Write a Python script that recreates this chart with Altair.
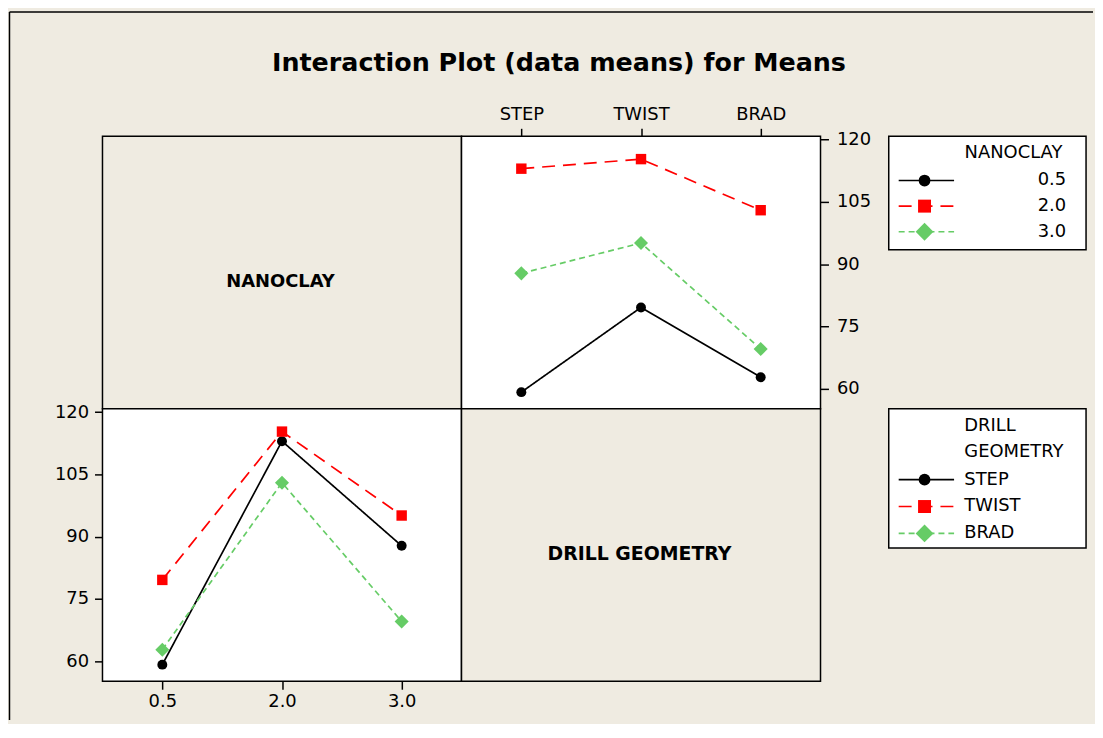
import altair as alt
import pandas as pd

# ---- data ----
nanoclay = ["0.5", "2.0", "3.0"]
geometry = ["STEP", "TWIST", "BRAD"]
# mean response for each nanoclay level at STEP, TWIST, BRAD
mean_05 = [59.2, 79.6, 62.8]
mean_20 = [113.0, 115.3, 103.0]
mean_30 = [87.8, 95.1, 69.6]
y_ticks = [60, 75, 90, 105, 120]
title_text = "Interaction Plot (data means) for Means"

BG = "#EFEBE1"
FONT = "DejaVu Sans"
series_colors = ["#000000", "#FF0000", "#66CC66"]
series_dash = [[1, 0], [13, 8], [6, 4]]
series_shape = ["circle", "square", "diamond"]
plot_sizes = [100, 110, 200]
legend_sizes = [140, 170, 320]

rows = []
for n, vals in zip(nanoclay, [mean_05, mean_20, mean_30]):
    for g, v in zip(geometry, vals):
        rows.append({"nano": n, "geom": g, "mean": v})
df = pd.DataFrame(rows)

PW, PH = 361, 274
LW = 267
yscale = alt.Scale(domain=[55.2, 120.8], nice=False, zero=False)


def styled(field, domain):
    return dict(
        color=alt.Color(f"{field}:N", scale=alt.Scale(domain=domain, range=series_colors), legend=None),
        strokeDash=alt.StrokeDash(f"{field}:N", scale=alt.Scale(domain=domain, range=series_dash), legend=None),
    )


def point_layers(data, field, domain, sizes, x, y):
    out = []
    for i, level in enumerate(domain):
        out.append(
            alt.Chart(data).transform_filter(alt.FieldEqualPredicate(field=field, equal=level))
            .mark_point(filled=True, opacity=1, shape=series_shape[i], size=sizes[i],
                        color=series_colors[i], strokeWidth=0)
            .encode(x=x, y=y)
        )
    return out


def interaction_panel(xfield, xdomain, sfield, sdomain, xorient, yorient):
    x = alt.X(f"{xfield}:N", sort=xdomain, scale=alt.Scale(domain=xdomain, type="point", padding=0.5),
              axis=alt.Axis(orient=xorient, title=None, labelAngle=0,
                            labelPadding=5 if xorient == "top" else 3))
    y = alt.Y("mean:Q", scale=yscale,
              axis=alt.Axis(orient=yorient, title=None, values=y_ticks,
                            labelPadding=8 if yorient == "right" else 6))
    lines = alt.Chart(df).mark_line(strokeWidth=1.7).encode(
        x=x, y=y, detail=f"{sfield}:N", **styled(sfield, sdomain))
    pts = point_layers(df, sfield, sdomain, plot_sizes, x, y)
    return alt.layer(lines, *pts).properties(
        width=PW, height=PH, view=alt.ViewBackground(fill="white", stroke="black", strokeWidth=1.5)
    )


one = pd.DataFrame({"k": [0]})


def label_text(text, cx, cy, size):
    return alt.Chart(one).mark_text(
        text=text, font=FONT, fontWeight="bold", fontSize=size, color="black", align="center", baseline="middle"
    ).encode(x=alt.value(cx), y=alt.value(cy))


# top-left cell: label, plus the figure title and the outer frame of the graph window
frame_left = alt.Chart(one).mark_rule(color="black", strokeWidth=1.5).encode(
    x=alt.value(-93.5), y=alt.value(-125), y2=alt.value(587))
frame_top = alt.Chart(one).mark_rule(color="black", strokeWidth=1.5).encode(
    x=alt.value(-93.5), x2=alt.value(996), y=alt.value(-125))
title_mark = alt.Chart(one).mark_text(
    text=title_text, font=FONT, fontWeight="bold", fontSize=25.5, color="black", align="center", baseline="middle"
).encode(x=alt.value(459), y=alt.value(-74))

nano_label = alt.layer(frame_left, frame_top, title_mark, label_text("NANOCLAY", 179, 147, 18)).properties(
    width=PW, height=PH, view=alt.ViewBackground(fill=BG, stroke="black", strokeWidth=1.5))
drill_label = label_text("DRILL GEOMETRY", 179, 146, 19).properties(
    width=PW, height=PH, view=alt.ViewBackground(fill=BG, stroke="black", strokeWidth=1.5))


def legend_panel(field, domain, title_lines, title_x, title_ys, title_align, box_h, entry_y, label_x, label_align):
    box = alt.Chart(one).mark_rect(fill="white", stroke="black", strokeWidth=1.5).encode(
        x=alt.value(68.6), x2=alt.value(LW), y=alt.value(0), y2=alt.value(box_h)
    )
    layers = [box]
    for t, ty in zip(title_lines, title_ys):
        layers.append(alt.Chart(one).mark_text(text=t, font=FONT, fontSize=18, color="black",
                                               align=title_align, baseline="middle")
                      .encode(x=alt.value(title_x), y=alt.value(ty)))
    entries = pd.DataFrame({field: domain})
    ey = alt.Y(f"{field}:N", scale=alt.Scale(type="point", domain=domain, range=entry_y, padding=0), axis=None)
    rule = alt.Chart(entries).mark_rule(strokeWidth=1.7).encode(
        x=alt.value(78.6), x2=alt.value(134.3), y=ey, **styled(field, domain))
    pts = point_layers(entries, field, domain, legend_sizes, alt.value(104.6), ey)
    labels = alt.Chart(entries).mark_text(font=FONT, fontSize=18, color="black", align=label_align,
                                          baseline="middle").encode(
        x=alt.value(label_x), y=ey, text=f"{field}:N")
    layers += [rule, *pts, labels]
    return alt.layer(*layers).properties(
        width=LW, height=PH, view=alt.ViewBackground(fill="transparent", strokeOpacity=0)
    )


top_right = interaction_panel("geom", geometry, "nano", nanoclay, "top", "right")
bottom_left = interaction_panel("nano", nanoclay, "geom", geometry, "bottom", "left")
legend1 = legend_panel("nano", nanoclay, ["NANOCLAY"], 194, [17], "center", 114, [44.5, 96], 247, "right")
legend2 = legend_panel("geom", geometry, ["DRILL", "GEOMETRY"], 144.6, [17, 44], "left", 140, [71.3, 125.3],
                       144.6, "left")

chart = alt.concat(
    nano_label, top_right, legend1, bottom_left, drill_label, legend2,
    columns=3, spacing=0, bounds="flush",
).properties(
    background=BG,
    padding={"left": 0, "top": 0, "right": 0, "bottom": 0},
).configure_axis(
    labelFont=FONT, labelFontSize=18, labelColor="black", tickColor="black", tickSize=8,
    tickWidth=1.5, domain=False, grid=False,
).configure_view(stroke="black")

chart.save("out.html", embed_options={"renderer": "svg", "actions": False})
